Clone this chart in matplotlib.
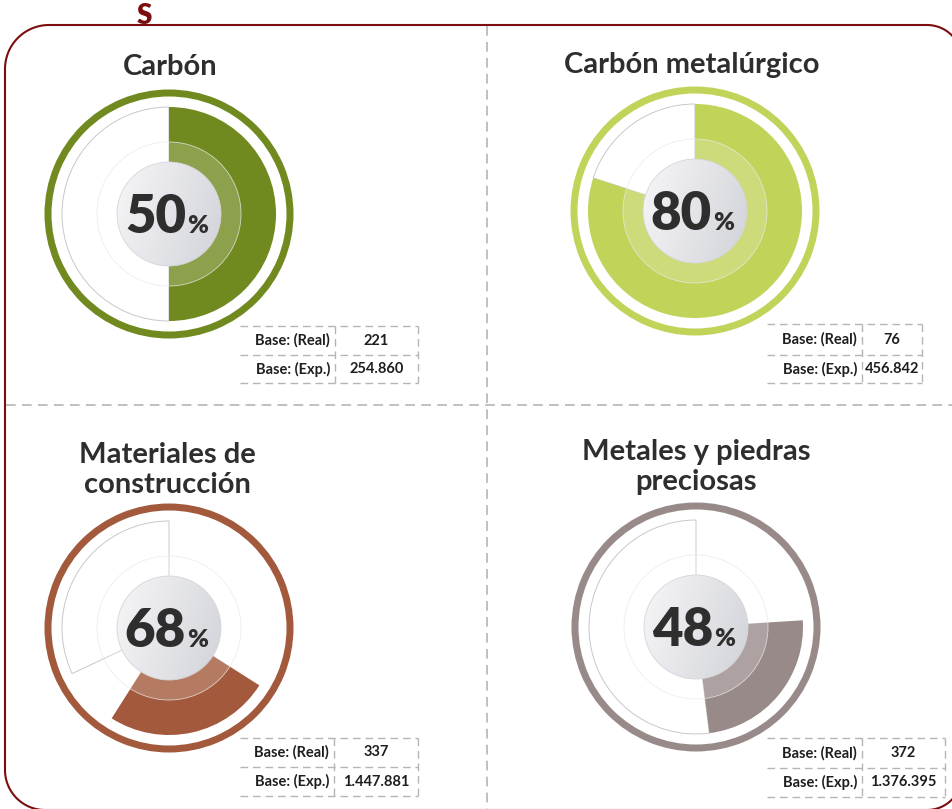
import numpy as np
import matplotlib
matplotlib.use("Agg")
import matplotlib.pyplot as plt
from matplotlib.patches import Wedge, Circle, PathPatch
from matplotlib.path import Path

plt.rcParams['font.family'] = ['Lato', 'DejaVu Sans']
plt.rcParams['lines.scale_dashes'] = False

# ---- data -------------------------------------------------------------
titles = ["Carbón", "Carbón metalúrgico",
          "Materiales de\nconstrucción", "Metales y piedras\npreciosas"]
percent = [50, 80, 68, 48]
# painted stretch of each ring, as fractions of a full turn from 12 o'clock
fill_from = [0.00, 0.00, 0.34, 0.24]
fill_to = [0.50, 0.80, 0.59, 0.48]
base_real = [221, 76, 337, 372]
base_exp = [254860, 456842, 1447881, 1376395]
row_labels = ["Base: (Real)", "Base: (Exp.)"]
colors = ["#718a20", "#c2d35a", "#a3593c", "#998a8a"]

# ---- layout (pixel coordinates, y grows downward) ----------------------
W, H = 953, 809
centers = [(169, 214), (695, 211), (169, 628), (696, 627)]
title_pos = [(170, 67), (692, 65), (167, 455), (696, 452)]
tables = [  # left, column split, right, top, middle, bottom
    (240, 335, 418, 326, 355, 383),
    (767, 862, 922, 324, 355, 383),
    (240, 334, 418, 738, 767, 796),
    (767, 862, 945, 738, 768, 797),
]
R_RING, RING_W = 124.5, 7
R_PIE, R_BAND, R_CORE = 107, 72, 52
TEXT = "#2e2e2e"
FRAME = "#7a0e0e"
GRID = "#b5b5b5"

fig = plt.figure(figsize=(W / 100, H / 100), dpi=100)
ax = fig.add_axes([0, 0, 1, 1])
ax.set_xlim(0, W)
ax.set_ylim(H, 0)
ax.axis("off")


def ang(f):
    """Fraction of a turn clockwise from 12 o'clock -> wedge angle (inverted y)."""
    return f * 360.0 - 90.0


def fmt(v):
    return f"{v:,}".replace(",", ".")


# rounded outer frame
def rounded_frame(l, t, r, b, rtl, rtr, rbr, rbl):
    pts = []
    def arc(cx, cy, rad, a0, a1):
        for a in np.linspace(np.radians(a0), np.radians(a1), 30):
            pts.append((cx + rad * np.cos(a), cy + rad * np.sin(a)))
    arc(l + rtl, t + rtl, rtl, 180, 270)
    arc(r - rtr, t + rtr, rtr, 270, 360)
    arc(r - rbr, b - rbr, rbr, 0, 90)
    arc(l + rbl, b - rbl, rbl, 90, 180)
    pts.append(pts[0])
    return Path(pts)

ax.add_patch(PathPatch(rounded_frame(5, 25, 962, 810, 44, 35, 35, 40),
                       facecolor="white", edgecolor=FRAME, lw=1.5, zorder=1))
ax.text(144, 16, "S", ha="center", va="center", fontsize=20,
        fontweight="heavy", color=FRAME, zorder=2)

# quadrant dividers
ax.plot([487.5, 487.5], [26, H], color=GRID, lw=1.2, dashes=(7, 4.5), zorder=1.5)
ax.plot([6, W], [405, 405], color=GRID, lw=1.2, dashes=(7, 4.5), zorder=1.5)

# gradient used for the centre disc
gx, gy = np.meshgrid(np.linspace(-1, 1, 200), np.linspace(-1, 1, 200))
shade = np.clip(0.5 + 0.5 * (0.9 * gx + 0.3 * gy), 0, 1)
light = np.array([0.955, 0.955, 0.965])
dark = np.array([0.835, 0.84, 0.86])
grad = light[None, None, :] * (1 - shade[..., None]) + dark[None, None, :] * shade[..., None]

for i in range(4):
    cx, cy = centers[i]
    col = colors[i]
    p = percent[i] / 100.0

    # remaining part of the turn, outlined only
    ax.add_patch(Wedge((cx, cy), R_PIE, ang(p), ang(1.0), facecolor="white",
                       edgecolor="#c8c8c8", lw=0.7, zorder=2))
    # painted stretch
    ax.add_patch(Wedge((cx, cy), R_PIE, ang(fill_from[i]), ang(fill_to[i]),
                       facecolor=col, edgecolor="none", zorder=3))
    # translucent inner band
    ax.add_patch(Wedge((cx, cy), R_BAND, 0, 360, width=R_BAND - R_CORE,
                       facecolor="white", alpha=0.2, edgecolor="none", zorder=4))
    ax.add_patch(Circle((cx, cy), R_BAND, facecolor="none",
                        edgecolor="#e9e9e9", lw=0.6, alpha=0.8, zorder=4))
    # outer ring
    ax.add_patch(Wedge((cx, cy), R_RING, 0, 360, width=RING_W,
                       facecolor=col, edgecolor="none", zorder=3))
    # centre disc with a soft gradient
    disc = Circle((cx, cy), R_CORE, transform=ax.transData)
    im = ax.imshow(grad, extent=(cx - R_CORE, cx + R_CORE, cy + R_CORE, cy - R_CORE),
                   aspect="auto", zorder=5, interpolation="bilinear")
    im.set_clip_path(disc)
    ax.add_patch(Circle((cx, cy), R_CORE, facecolor="none", edgecolor="#d6d6da",
                        lw=0.6, zorder=6))

    # percentage label
    ax.text(cx + 17, cy + 19, f"{percent[i]}", ha="right", va="baseline",
            fontsize=38, fontweight="heavy", color=TEXT, zorder=7)
    ax.text(cx + 18, cy + 19, "%", ha="left", va="baseline",
            fontsize=18, fontweight="heavy", color=TEXT, zorder=7)

    # title
    tx, ty = title_pos[i]
    for k, line in enumerate(titles[i].split("\n")):
        ax.text(tx, ty + 30 * k, line, ha="center", va="center",
                fontsize=21, fontweight="bold", color=TEXT, zorder=7)

    # base table
    l, c, r, t, m, b = tables[i]
    for yy in (t, m, b):
        ax.plot([l, r], [yy, yy], color=GRID, lw=1.0, dashes=(5.5, 3.5), zorder=2)
    for xx in (c, r):
        ax.plot([xx, xx], [t, b], color=GRID, lw=1.0, dashes=(5.5, 3.5), zorder=2)
    vals = [str(base_real[i]), fmt(base_exp[i])]
    for k, (yy0, yy1) in enumerate([(t, m), (m, b)]):
        ym = (yy0 + yy1) / 2
        ax.text(c - 5, ym, row_labels[k], ha="right", va="center",
                fontsize=10.5, fontweight="bold", color="#1e1e1e", zorder=7)
        ax.text((c + r) / 2, ym, vals[k], ha="center", va="center",
                fontsize=10.5, fontweight="bold", color="#1e1e1e", zorder=7)

ax.set_xlim(0, W)
ax.set_ylim(H, 0)
fig.savefig("out.png", dpi=100)
